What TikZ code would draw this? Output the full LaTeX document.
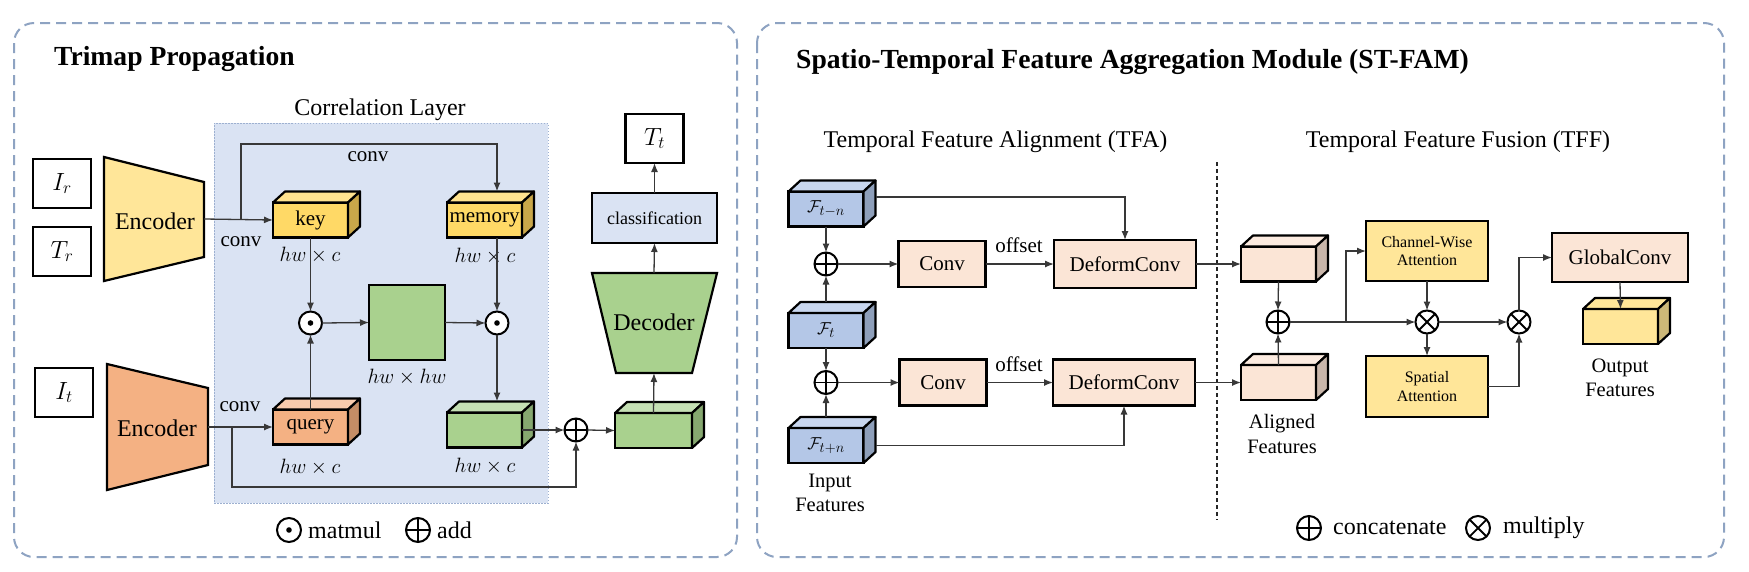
\documentclass[tikz,border=0pt]{standalone}
\usepackage{fontspec}
\setmainfont{Liberation Serif}
\usetikzlibrary{arrows.meta,calc}
\definecolor{panelc}{HTML}{8EA3C2}
\definecolor{corrF}{HTML}{DAE3F3}
\definecolor{corrD}{HTML}{9DB0D0}
\definecolor{encY}{HTML}{FFE699}
\definecolor{encO}{HTML}{F4B183}
\definecolor{kYF}{HTML}{FFD966}
\definecolor{kYT}{HTML}{FFE38F}
\definecolor{kYS}{HTML}{C9A74A}
\definecolor{qOF}{HTML}{F4B183}
\definecolor{qOT}{HTML}{F8CBAD}
\definecolor{qOS}{HTML}{C48D66}
\definecolor{gGF}{HTML}{A9D18E}
\definecolor{gGT}{HTML}{C5E0B4}
\definecolor{gGS}{HTML}{86A870}
\definecolor{fBF}{HTML}{B4C7E7}
\definecolor{fBT}{HTML}{C8D6EE}
\definecolor{fBS}{HTML}{8E9FBA}
\definecolor{aPF}{HTML}{FBE5D6}
\definecolor{aPT}{HTML}{FCEBE0}
\definecolor{aPS}{HTML}{C9B6AA}
\definecolor{oYF}{HTML}{FFE699}
\definecolor{oYT}{HTML}{FFE699}
\definecolor{oYS}{HTML}{CDB878}
\definecolor{pk}{HTML}{FBE5D6}
\definecolor{yl}{HTML}{FFE699}
\definecolor{clsB}{HTML}{DAE3F3}
\definecolor{arrc}{HTML}{383838}
\newcommand{\mkcube}[6]{%
  \node[cubef, fill=#5F, minimum width=#3pt, minimum height=#4pt] (#1) at #2 {#6};
  \filldraw[cubeline, fill=#5T] (#1.north west) -- ++(12,-11) -- ++(#3,0) -- (#1.north east) -- cycle;
  \filldraw[cubeline, fill=#5S] (#1.north east) -- ++(12,-11) -- ++(0,#4) -- (#1.south east) -- cycle;
}
\tikzset{
  panel/.style={draw=panelc, line width=2pt, dash pattern=on 10pt off 6pt, rounded corners=20pt},
  box/.style={rectangle, draw=black, line width=2.2pt, inner sep=0pt, outer sep=0pt},
  cubef/.style={box, font=\fontsize{21}{25}\selectfont},
  cubeline/.style={draw=black, line width=2.2pt, line join=round},
  encl/.style={draw=black, line width=2.2pt, line join=miter},
  inbox/.style={box, fill=white, minimum width=58pt, minimum height=49pt, font=\fontsize{25}{29}\selectfont},
  titlef/.style={inner sep=0pt, font=\fontsize{27.6}{32}\selectfont\bfseries},
  lab24/.style={inner sep=0pt, font=\fontsize{24}{28}\selectfont},
  lab22/.style={inner sep=0pt, font=\fontsize{22}{26}\selectfont},
  lab21/.style={inner sep=0pt, font=\fontsize{21}{25}\selectfont},
  lab20/.style={inner sep=0pt, align=center, font=\fontsize{20.5}{24.5}\selectfont},
  lab16/.style={align=center, font=\fontsize{16}{18.5}\selectfont},
  opc/.style={circle, draw=black, line width=2pt, fill=white, minimum size=23pt, inner sep=0pt, outer sep=0pt},
  odotc/.style={opc, path picture={\fill[black] (path picture bounding box.center) circle (2.8pt);}},
  oplusc/.style={opc, path picture={\draw[black, line width=1.8pt] (path picture bounding box.north) -- (path picture bounding box.south) (path picture bounding box.west) -- (path picture bounding box.east);}},
  otimesc/.style={opc, path picture={\draw[black, line width=1.8pt] (path picture bounding box.north west) -- (path picture bounding box.south east) (path picture bounding box.north east) -- (path picture bounding box.south west);}},
  legc/.style={minimum size=24pt},
  arr/.style={draw=arrc, line width=1.3pt, -{Latex[length=9pt,width=7pt]}},
  ln/.style={draw=arrc, line width=1.3pt},
}
\begin{document}
\begin{tikzpicture}[x=1pt,y=-1pt]
\useasboundingbox (0,0) rectangle (1749,571);
\fill[white] (0,0) rectangle (1749,571);

% ---------------- panels
\draw[panel] (14,23) rectangle (737,557);
\draw[panel] (757,23) rectangle (1724,557);

% ---------------- left panel
\node[titlef, anchor=base west] (t1) at (54,65) {Trimap Propagation};
\node[rectangle, draw=corrD, fill=corrF, line width=1pt, dash pattern=on 1.5pt off 1.5pt, minimum width=334pt, minimum height=380pt, inner sep=0pt, outer sep=0pt] (corr) at (381,313) {};
\node[lab24, anchor=base] (corrlab) at (380,115) {Correlation Layer};

\node[inbox] (Ir) at (62,183.5) {$I_r$};
\node[inbox] (Tr) at (62,251.5) {$T_r$};
\node[inbox] (It) at (64,392.5) {$I_t$};

\filldraw[encl, fill=encY] (104,157) -- (204,182) -- (204,257) -- (104,281) -- cycle;
\node[lab24] (enc1) at (155,221) {Encoder};
\coordinate (enc1o) at (204,219);
\filldraw[encl, fill=encO] (107,364) -- (208,388) -- (208,465) -- (107,490) -- cycle;
\node[lab24] (enc2) at (157,428) {Encoder};
\coordinate (enc2o) at (208,427);

\mkcube{key}{(310.5,220)}{75}{35}{kY}{key}
\mkcube{mem}{(484.5,220)}{75}{35}{kY}{memory}
\mkcube{qry}{(310.5,427)}{75}{35}{qO}{query}
\mkcube{g1}{(484.5,430)}{75}{35}{gG}{}
\mkcube{g2}{(653.5,430.5)}{77}{35}{gG}{}

\node[box, fill=gGF, minimum width=76pt, minimum height=75pt] (sq) at (407,322.5) {};
\node[odotc] (m1) at (310.5,323) {};
\node[odotc] (m2) at (497,323) {};
\node[oplusc] (a1) at (576,430) {};

\filldraw[encl, fill=gGF] (592,273) -- (717,273) -- (692,373) -- (616,373) -- cycle;
\node[lab24] (dec) at (654,322) {Decoder};
\coordinate (decB) at (654,373);
\coordinate (decT) at (654,273);
\node[box, fill=clsB, minimum width=125pt, minimum height=50pt, font=\fontsize{18}{21}\selectfont] (cls) at (654.5,218) {classification};
\node[inbox] (Tt) at (654.5,138.5) {$T_t$};

\node[lab21] (cv1) at (241,242) {conv};
\node[lab21] (cv2) at (368,157) {conv};
\node[lab21] (cv3) at (240,407) {conv};
\node[lab22] (l1) at (310,255) {$hw\times c$};
\node[lab22] (l2) at (485,256) {$hw\times c$};
\node[lab22] (l3) at (310,467) {$hw\times c$};
\node[lab22] (l4) at (485,466) {$hw\times c$};
\node[lab22] (l5) at (407,377) {$hw\times hw$};

\coordinate (br1) at (241,219);
\coordinate (brtop) at (241,144);
\coordinate (memin) at ($(mem.north)+(12.5,-11)$);
\coordinate (br2) at (232,427);
\coordinate (brbot) at (232,487);
\draw[arr] (enc1o) -- (key.west);
\draw[arr] (br1) -- (brtop) -| (memin);
\draw[arr] (key.south) -- (m1.north);
\draw[arr] (qry.north) -- (m1.south);
\draw[arr] (m1.east) -- (sq.west);
\draw[arr] (sq.east) -- (m2.west);
\draw[arr] (mem.south -| m2) -- (m2.north);
\draw[arr] (m2.south) -- ($(g1.north -| m2)+(0,-11)$);
\draw[arr] (g1.east) -- (a1.west);
\draw[arr] (a1.east) -- (g2.west);
\draw[arr] (enc2o) -- (qry.west);
\draw[arr] (br2) -- (brbot) -| (a1.south);
\draw[arr] (g2.north) -- (decB);
\draw[arr] (decT) -- (cls.south);
\draw[arr] (cls.north) -- (Tt.south);

\node[odotc, legc] (lg1) at (289,530) {};
\node[lab24, anchor=west] (lgt1) at (308,530) {matmul};
\node[oplusc, legc] (lg2) at (418,530) {};
\node[lab24, anchor=west] (lgt2) at (437,530) {add};

% ---------------- right panel
\node[titlef, anchor=base west] (t2) at (796,68) {Spatio-Temporal Feature Aggregation Module (ST-FAM)};
\node[lab24, anchor=base] (tfa) at (995.5,147) {Temporal Feature Alignment (TFA)};
\node[lab24, anchor=base] (tff) at (1458,147) {Temporal Feature Fusion (TFF)};
\draw[draw=black!85, line width=1.1pt, dash pattern=on 4pt off 3pt] (1217,162) -- (1217,520);

\mkcube{F1}{(826,209)}{75}{35}{fB}{\fontsize{19}{22}\selectfont$\mathcal{F}_{t-n}$}
\mkcube{F2}{(826,330.5)}{75}{35}{fB}{\fontsize{19}{22}\selectfont$\mathcal{F}_{t}$}
\mkcube{F3}{(826,445.5)}{75}{35}{fB}{\fontsize{19}{22}\selectfont$\mathcal{F}_{t+n}$}
\node[oplusc] (p1) at (826,264) {};
\node[oplusc] (p2) at (826,382.5) {};
\node[box, fill=pk, minimum width=87pt, minimum height=46pt, font=\fontsize{21}{25}\selectfont] (c1) at (942,264) {Conv};
\node[box, fill=pk, minimum width=87pt, minimum height=46pt, font=\fontsize{21}{25}\selectfont] (c2) at (943,382.5) {Conv};
\node[box, fill=pk, minimum width=142pt, minimum height=48pt, font=\fontsize{21}{25}\selectfont] (d1) at (1125,264) {DeformConv};
\node[box, fill=pk, minimum width=142pt, minimum height=46pt, font=\fontsize{21}{25}\selectfont] (d2) at (1124,382.5) {DeformConv};
\node[lab21] (o1) at (1019,245) {offset};
\node[lab21] (o2) at (1019,364) {offset};
\mkcube{A1}{(1278.5,264)}{75}{35}{aP}{}
\mkcube{A2}{(1278.5,382.5)}{75}{35}{aP}{}
\node[oplusc] (p3) at (1278,322) {};
\node[box, fill=yl, minimum width=122pt, minimum height=60pt, lab16] (ca) at (1427,251) {Channel-Wise\\Attention};
\node[box, fill=yl, minimum width=122pt, minimum height=61pt, lab16] (sa) at (1427,386.5) {Spatial\\Attention};
\node[otimesc] (x1) at (1427,322) {};
\node[otimesc] (x2) at (1519,322) {};
\node[box, fill=pk, minimum width=136pt, minimum height=49pt, font=\fontsize{21}{25}\selectfont] (gc) at (1620,257.5) {GlobalConv};
\mkcube{out}{(1620.5,326.5)}{75}{35}{oY}{}
\node[lab20] (inl) at (830,493) {Input\\Features};
\node[lab20] (all) at (1282,434) {Aligned\\Features};
\node[lab20] (outl) at (1620,378) {Output\\Features};

\coordinate (br3) at (1346,322);
\draw[arr] (F1.south) -- (p1.north);
\draw[arr] ($(F2.north)+(0,-11)$) -- (p1.south);
\draw[arr] (F2.south) -- (p2.north);
\draw[arr] ($(F3.north)+(0,-11)$) -- (p2.south);
\draw[arr] (p1.east) -- (c1.west);
\draw[arr] (c1.east) -- (d1.west);
\draw[arr] (p2.east) -- (c2.west);
\draw[arr] (c2.east) -- (d2.west);
\draw[arr] ($(F1.east)+(12,-12)$) -| (d1.north);
\draw[arr] ($(F3.east)+(12,0)$) -| (d2.south);
\draw[arr] (d1.east) -- (A1.west);
\draw[arr] (d2.east) -- (A2.west);
\draw[arr] (A1.south) -- (p3.north);
\draw[arr] (A2.north) -- (p3.south);
\draw[arr] (p3.east) -- (x1.west);
\draw[arr] (br3) |- (ca.west);
\draw[arr] (ca.south) -- (x1.north);
\draw[arr] (x1.south) -- (sa.north);
\draw[arr] (x1.east) -- (x2.west);
\draw[arr] (sa.east) -| (x2.south);
\draw[arr] (x2.north) |- (gc.west);
\draw[arr] (gc.south) -- (out.north);

\node[oplusc, legc] (lg3) at (1309,528) {};
\node[lab24, anchor=west] (lgt3) at (1333,528) {concatenate};
\node[otimesc, legc] (lg4) at (1478,528) {};
\node[lab24, anchor=west] (lgt4) at (1503,528) {multiply};
\end{tikzpicture}
\end{document}
